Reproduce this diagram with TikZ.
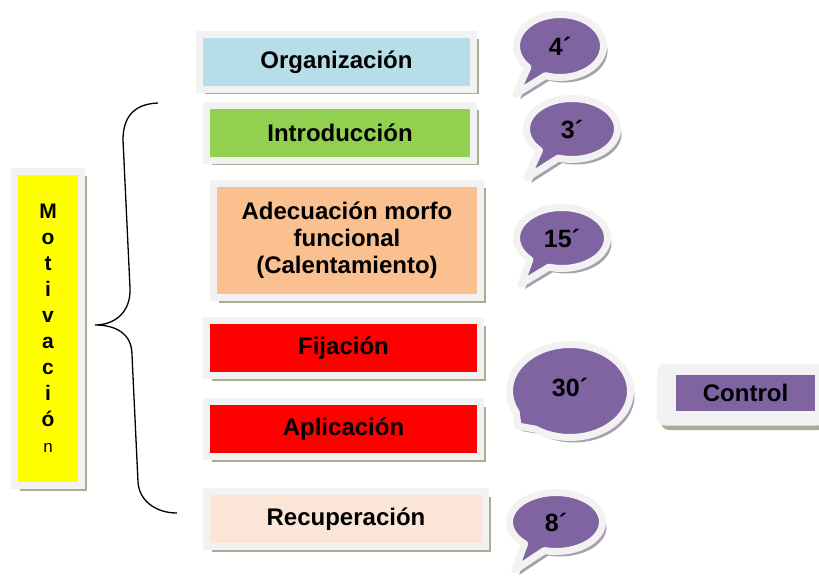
\documentclass[tikz,border=0pt]{standalone}
\usepackage{fontspec}
\setmainfont{Liberation Sans}
\usetikzlibrary{positioning, calc, shapes.callouts, shadows, backgrounds}
\definecolor{framegray}{RGB}{242,242,242}
\definecolor{cardshadow}{RGB}{168,174,150}
\definecolor{bubbleshadow}{RGB}{166,160,172}
\definecolor{lila}{RGB}{128,100,162}
\definecolor{celeste}{RGB}{183,222,232}
\definecolor{verde}{RGB}{146,208,80}
\definecolor{naranja}{RGB}{250,192,144}
\definecolor{rojo}{RGB}{255,0,0}
\definecolor{crema}{RGB}{251,229,214}
\definecolor{amarillo}{RGB}{255,255,0}

\tikzset{
    frame/.style={draw=framegray, line width=7pt, align=center, inner sep=0pt,
        font=\fontsize{24}{27}\selectfont\bfseries},
    card/.style={frame, minimum width=274pt, minimum height=55pt,
        drop shadow={shadow xshift=5pt, shadow yshift=-5pt, fill=cardshadow, opacity=1}},
    bubble/.style={ellipse callout, draw=framegray, fill=lila, line width=7pt, line join=round,
        inner sep=0pt, callout pointer arc=28, font=\fontsize{25}{28}\selectfont\bfseries,
        drop shadow={shadow xshift=4pt, shadow yshift=-5pt, fill=bubbleshadow, opacity=1}}
}

\begin{document}
\begin{tikzpicture}[x=1pt, y=-1pt]
    \useasboundingbox (0,0) rectangle (819,580);

    % etapas
    \node[card, fill=celeste] (org) at (336.5,62) {Organización};
    \node[card, fill=verde, minimum width=267pt] (intro) at (340,133) {Introducción};
    \node[card, fill=naranja, minimum width=267pt, minimum height=114pt] (adec) at (347,240.5)
        {Adecuación morfo\\funcional\\(Calentamiento)};
    \node[card, fill=rojo] (fij) at (343.5,348) {Fijación};
    \node[card, fill=rojo] (apl) at (343.5,429) {Aplicación};
    \node[card, fill=crema, minimum width=279pt] (recup) at (346,519) {Recuperación};

    % motivacion
    \node[card, fill=amarillo, minimum width=67pt, minimum height=314pt,
        font=\fontsize{21}{26}\selectfont\bfseries] (motiv) at (48,328.5)
        {M\\o\\t\\i\\v\\a\\c\\i\\ó\\{\mdseries\fontsize{17}{26}\selectfont n}};

    % llave
    \coordinate (llaveA) at (158,103);
    \coordinate (punta) at (95,325);
    \coordinate (llaveB) at (177,513);
    \draw[line width=1.3pt] (llaveA) .. controls +(-25,1) and +(0,-22) .. (123,140)
        -- (130,288) .. controls +(1,24) and +(20,0) .. (punta)
        .. controls +(20,0) and +(0,-22) .. (132,355)
        -- (138,482) .. controls +(1,18) and +(-22,0) .. (llaveB);

    % tiempos
    \node[bubble, minimum width=87pt, minimum height=63pt,
        callout absolute pointer={(516,94)}] (t4) at (560,46) {4´};
    \node[bubble, minimum width=91pt, minimum height=61pt,
        callout absolute pointer={(527,178)}] (t3) at (572,129) {3´};
    \node[bubble, minimum width=91pt, minimum height=61pt,
        callout absolute pointer={(521,284)}] (t15) at (562,238) {15´};
    \node[bubble, minimum width=121pt, minimum height=93pt,
        callout absolute pointer={(518,426)}] (t30) at (570,391) {\raisebox{7pt}{30´}};
    \node[bubble, minimum width=93pt, minimum height=59pt,
        callout absolute pointer={(515,570)}] (t8) at (556,522) {8´};

    % control
    \node[frame, fill=lila, minimum width=146pt, minimum height=43pt] (ctrl) at (745.5,393) {Control};
    \begin{scope}[on background layer]
        \fill[cardshadow, rounded corners=8pt] ($(ctrl.north west)+(-8,0)$) rectangle ($(ctrl.south east)+(8,12)$);
        \fill[framegray, rounded corners=8pt] ($(ctrl.north west)+(-12,-4.5)$) rectangle ($(ctrl.south east)+(3.5,7.5)$);
    \end{scope}
\end{tikzpicture}
\end{document}
